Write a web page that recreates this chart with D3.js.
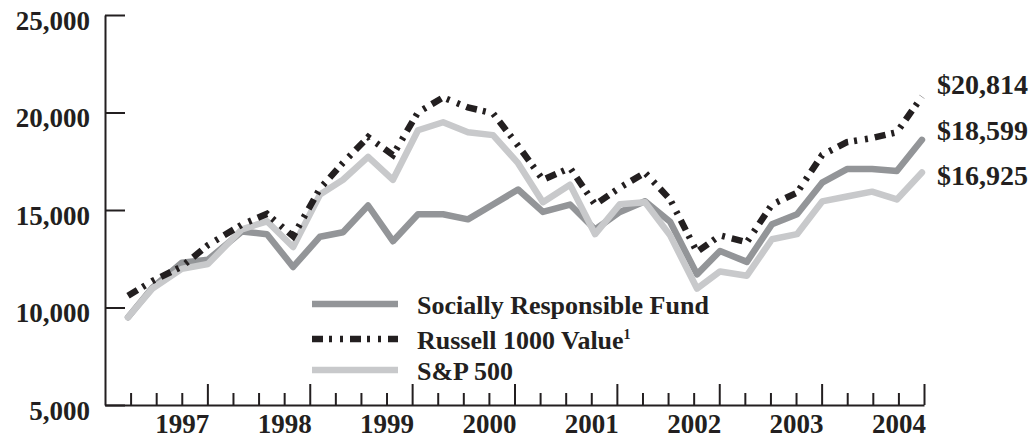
<!DOCTYPE html>
<html lang="en">
	<head>
		<meta charset="utf-8">
		<title>Growth of a hypothetical investment</title>
		<script src="https://d3js.org/d3.v7.min.js"></script>
		<style>
			body { margin: 0; background: #fff; }
			text { font-family: "Liberation Serif", "DejaVu Serif", serif; font-weight: bold; fill: #231f20; }
		</style>
	</head>
	<body>
		<script type="text/javascript">

			// svg size
			var w = 1035;
			var h = 441;

			// data (x in quarters since the axis origin)
			var periods = [0.9, 1.84, 3.0, 4.02, 5.35, 6.33, 7.35, 8.4, 9.3, 10.28, 11.25, 12.23, 13.21, 14.18, 15.16, 16.14,
			               17.11, 18.17, 19.15, 20.12, 21.1, 22.08, 23.13, 24.03, 25.08, 26.06, 27.04, 28.02, 28.99, 29.97, 30.94, 31.92];
			var fund = [9500, 11000, 12300, 12450, 13900, 13760, 12080, 13630, 13860, 15230, 13400, 14780, 14780, 14520, 15280, 16050,
			            14900, 15280, 14000, 14900, 15450, 14400, 11700, 12900, 12340, 14270, 14780, 16400, 17100, 17100, 17000, 18599];
			var russell = [10600, 11350, 12100, 13200, 14250, 14800, 13650, 16100, 17420, 18740, 17820, 20010, 20770, 20260, 19960, 18300,
			               16550, 17160, 15280, 16150, 16910, 15540, 12850, 13700, 13350, 15280, 15890, 17820, 18480, 18690, 18990, 20814];
			var sp500 = [9500, 10960, 11980, 12230, 14010, 14420, 13100, 15790, 16550, 17720, 16550, 19090, 19500, 18990, 18840, 17400,
			             15400, 16300, 13760, 15300, 15400, 13700, 10970, 11850, 11630, 13500, 13760, 15440, 15690, 15940, 15540, 16925];

			var years = ["1997", "1998", "1999", "2000", "2001", "2002", "2003", "2004"];
			var yTicks = [5000, 10000, 15000, 20000, 25000];
			var seriesNames = ["Socially Responsible Fund", "Russell 1000 Value", "S&P 500"];
			var endLabels = ["$20,814", "$18,599", "$16,925"];

			var fundColor = "#939598";
			var spColor = "#c8c9cb";
			var russellColor = "#231f20";
			var russellDash = "11,6,3,8,3,7";

			// scales
			var xScale = d3.scaleLinear().domain([0, 32]).range([105, 924]);
			var yScale = d3.scaleLinear().domain([5000, 25000]).range([405, 15]);

			var svg = d3.select("body").append("svg").attr("width", w).attr("height", h);

			// y axis, ticks pointing inward
			var yAxis = d3.axisLeft(yScale).tickValues(yTicks).tickSize(-20).tickSizeOuter(0).tickPadding(15)
				.tickFormat(d3.format(","));
			var gy = svg.append("g").attr("transform", `translate(${xScale(0)},0)`).call(yAxis);
			gy.selectAll("text").attr("font-size", "27px").attr("dy", "0.52em").attr("font-family", null);
			gy.selectAll("line, path").attr("stroke", "#231f20").attr("stroke-width", 2);

			// x axis, quarterly ticks, longer each year
			var xAxis = d3.axisBottom(xScale).tickValues(d3.range(1, 33)).tickSize(-12).tickSizeOuter(0).tickFormat("");
			var gx = svg.append("g").attr("transform", `translate(0,${yScale(5000)})`).call(xAxis);
			gx.selectAll(".tick line").filter(function(d) { return d % 4 == 0; }).attr("y2", -21);
			gx.selectAll("line, path").attr("stroke", "#231f20").attr("stroke-width", 2);

			// year labels
			var yearAxis = d3.axisBottom(xScale).tickValues(years.map(function(d, i) { return 3 + 4 * i; }))
				.tickSize(0).tickPadding(9).tickFormat(function(d, i) { return years[i]; });
			var gl = svg.append("g").attr("transform", `translate(0,${yScale(5000)})`).call(yearAxis);
			gl.select(".domain").remove();
			gl.selectAll("text").attr("font-size", "27px").attr("font-family", null);

			// lines
			var line = d3.line().x(function(d) { return xScale(d[0]); }).y(function(d) { return yScale(d[1]); });
			function pts(vals) { return vals.map(function(v, i) { return [periods[i], v]; }); }

			svg.append("path").datum(pts(fund)).attr("d", line).attr("fill", "none")
				.attr("stroke", fundColor).attr("stroke-width", 6.5).attr("stroke-linejoin", "round").attr("stroke-linecap", "round");
			svg.append("path").datum(pts(sp500)).attr("d", line).attr("fill", "none")
				.attr("stroke", spColor).attr("stroke-width", 6.5).attr("stroke-linejoin", "round").attr("stroke-linecap", "round");
			svg.append("path").datum(pts(russell)).attr("d", line).attr("fill", "none")
				.attr("stroke", russellColor).attr("stroke-width", 6.5).attr("stroke-dasharray", russellDash);

			// end values
			var lastVals = [russell[31], fund[31], sp500[31]];
			var labelDy = [-3, 0, 13];
			svg.selectAll("text.end").data(endLabels).enter().append("text").attr("class", "end")
				.attr("x", 937).attr("y", function(d, i) { return yScale(lastVals[i]) + labelDy[i]; })
				.attr("font-size", "28px").text(function(d) { return d; });

			// legend
			var legendY = [304, 339, 370];
			var legendStyle = [[fundColor, null], [russellColor, russellDash], [spColor, null]];
			var lg = svg.append("g");
			seriesNames.forEach(function(name, i) {
				lg.append("line").attr("x1", 312).attr("x2", 398).attr("y1", legendY[i]).attr("y2", legendY[i])
					.attr("stroke", legendStyle[i][0]).attr("stroke-width", 6.5).attr("stroke-dasharray", legendStyle[i][1]);
				var t = lg.append("text").attr("x", 417).attr("y", legendY[i] + 10).attr("font-size", "26px").text(name);
				if (i == 1) t.append("tspan").attr("font-size", "14px").attr("dy", -10).text("1");
			});

		</script>
	</body>
</html>
